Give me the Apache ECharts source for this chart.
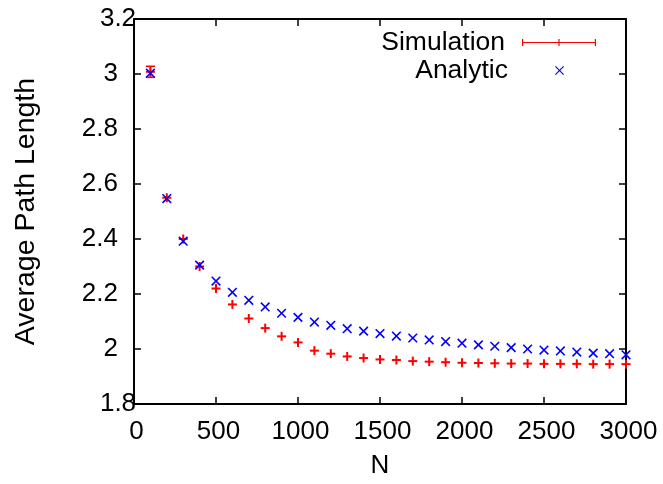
<!DOCTYPE html>
<html>
<head>
<meta charset="utf-8">
<script src="https://cdn.jsdelivr.net/npm/echarts@6/dist/echarts.min.js"></script>
<style>html,body{margin:0;padding:0;background:#fff}#c{width:663px;height:484px}</style>
</head>
<body>
<div id="c"></div>
<script>
var N = [100,200,300,400,500,600,700,800,900,1000,1100,1200,1300,1400,1500,1600,1700,1800,1900,2000,2100,2200,2300,2400,2500,2600,2700,2800,2900,3000];
var simulation = [3.008,2.55,2.40,2.30,2.22,2.162,2.111,2.076,2.046,2.024,1.994,1.983,1.973,1.967,1.962,1.960,1.956,1.954,1.952,1.950,1.949,1.948,1.947,1.947,1.946,1.946,1.946,1.945,1.945,1.945];
var simulationErr = [0.02,0,0,0,0,0,0,0,0,0,0,0,0,0,0,0,0,0,0,0,0,0,0,0,0,0,0,0,0,0];
var analytic = [3.003,2.547,2.392,2.305,2.247,2.206,2.177,2.153,2.130,2.115,2.098,2.086,2.074,2.065,2.056,2.047,2.040,2.033,2.027,2.021,2.015,2.010,2.005,2.000,1.996,1.993,1.989,1.985,1.983,1.979];
var yTicks = ['1.8','2','2.2','2.4','2.6','2.8','3','3.2'];
var xTicks = ['0','500','1000','1500','2000','2500','3000'];

var simData = N.map(function(n,i){return [n, simulation[i], simulationErr[i]];});
var anaData = N.map(function(n,i){return [n, analytic[i]];});

var font = '"Liberation Sans", Arial, sans-serif';
var FS = 26;
var RED = '#ff0000', BLUE = '#0000ff';

var chart = echarts.init(document.getElementById('c'), null, {renderer:'canvas'});
chart.setOption({
  animation: false,
  backgroundColor: '#fff',
  grid: {left:134, right:37, top:19, bottom:80, containLabel:false, outerBoundsMode:'none'},
  legend: [
    {
      data: ['Simulation'], right: 62, top: 24, align: 'right', orient: 'vertical',
      itemWidth: 74, itemHeight: 7, selectedMode: false,
      icon: 'path://M0,0h1.2v7h-1.2z M0,3h74v1h-74z M36.4,0h1.2v7h-1.2z M72.8,0h1.2v7h-1.2z',
      textStyle: {fontFamily: font, fontSize: 26.5, color:'#000', padding:[0,12,0,0]}
    },
    {
      data: ['Analytic'], right: 94, top: 52, align: 'right', orient: 'vertical',
      itemWidth: 9, itemHeight: 9, selectedMode: false,
      icon: 'path://M0,0.8L0.8,0L4.5,3.7L8.2,0L9,0.8L5.3,4.5L9,8.2L8.2,9L4.5,5.3L0.8,9L0,8.2L3.7,4.5Z',
      textStyle: {fontFamily: font, fontSize: 26.5, color:'#000', padding:[0,42,0,0]}
    }
  ],
  xAxis: [
    {
      type: 'value', position: 'bottom', min: 0, max: 3000, interval: 500,
      name: 'N', nameLocation: 'middle', nameGap: 49,
      nameTextStyle: {fontFamily: font, fontSize: FS, color:'#000'},
      axisLine: {show:true, onZero:false, lineStyle:{color:'#000', width:2}},
      axisTick: {show:true, inside:true, length:7, lineStyle:{color:'#000', width:1.5}},
      axisLabel: {fontFamily: font, fontSize: FS, color:'#000', margin: 15,
        alignMinLabel: 'center', alignMaxLabel: 'center', hideOverlap: false,
        padding: [0,0,0,5],
        formatter: function(v){ var i = Math.round(v/500); return xTicks[i] || ''; }},
      splitLine: {show:false}
    },
    {
      type: 'value', position: 'top', min: 0, max: 3000, interval: 500,
      axisLine: {show:true, onZero:false, lineStyle:{color:'#000', width:2}},
      axisTick: {show:true, inside:true, length:7, lineStyle:{color:'#000', width:1.5}},
      axisLabel: {show:false}, splitLine: {show:false}
    }
  ],
  yAxis: [
    {
      type: 'value', position: 'left', min: 1.8, max: 3.2, interval: 0.2,
      name: 'Average Path Length', nameLocation: 'middle', nameGap: 93,
      nameTextStyle: {fontFamily: font, fontSize: 28.5, color:'#000'},
      axisLine: {show:true, onZero:false, lineStyle:{color:'#000', width:2}},
      axisTick: {show:true, inside:true, length:7, lineStyle:{color:'#000', width:1.5}},
      axisLabel: {fontFamily: font, fontSize: FS, color:'#000', margin: 16,
        alignMinLabel: 'center', alignMaxLabel: 'center', padding: [3,0,0,0],
        formatter: function(v){ var i = Math.round((v-1.8)/0.2); return yTicks[i] || ''; }},
      splitLine: {show:false}
    },
    {
      type: 'value', position: 'right', min: 1.8, max: 3.2, interval: 0.2,
      axisLine: {show:true, onZero:false, lineStyle:{color:'#000', width:2}},
      axisTick: {show:true, inside:true, length:7, lineStyle:{color:'#000', width:1.5}},
      axisLabel: {show:false}, splitLine: {show:false}
    }
  ],
  series: [
    {
      name: 'Simulation', type: 'custom', xAxisIndex: 0, yAxisIndex: 0,
      data: simData, z: 3,
      renderItem: function(params, api){
        var x = api.value(0), y = api.value(1), e = api.value(2);
        var p = api.coord([x,y]);
        var s = {stroke: RED, lineWidth: 1.6};
        var c = [];
        if (e > 0) {
          var top = api.coord([x, y+e]), bot = api.coord([x, y-e]);
          c.push({type:'line', shape:{x1:p[0],y1:top[1],x2:p[0],y2:bot[1]}, style:s});
          c.push({type:'line', shape:{x1:p[0]-4.5,y1:top[1],x2:p[0]+4.5,y2:top[1]}, style:s});
          c.push({type:'line', shape:{x1:p[0]-4.5,y1:bot[1],x2:p[0]+4.5,y2:bot[1]}, style:s});
        }
        c.push({type:'line', shape:{x1:p[0]-4.5,y1:p[1],x2:p[0]+4.5,y2:p[1]}, style:{stroke:RED,lineWidth:2}});
        c.push({type:'line', shape:{x1:p[0],y1:p[1]-4.5,x2:p[0],y2:p[1]+4.5}, style:{stroke:RED,lineWidth:2}});
        return {type:'group', children:c};
      },
      itemStyle: {color: RED}
    },
    {
      name: 'Analytic', type: 'custom', xAxisIndex: 0, yAxisIndex: 0,
      data: anaData, z: 4,
      renderItem: function(params, api){
        var p = api.coord([api.value(0), api.value(1)]);
        var d = 4.3;
        var s = {stroke: BLUE, lineWidth: 1.6};
        return {type:'group', children:[
          {type:'line', shape:{x1:p[0]-d,y1:p[1]-d,x2:p[0]+d,y2:p[1]+d}, style:s},
          {type:'line', shape:{x1:p[0]-d,y1:p[1]+d,x2:p[0]+d,y2:p[1]-d}, style:s}
        ]};
      },
      itemStyle: {color: BLUE}
    }
  ]
});
</script>
</body>
</html>
